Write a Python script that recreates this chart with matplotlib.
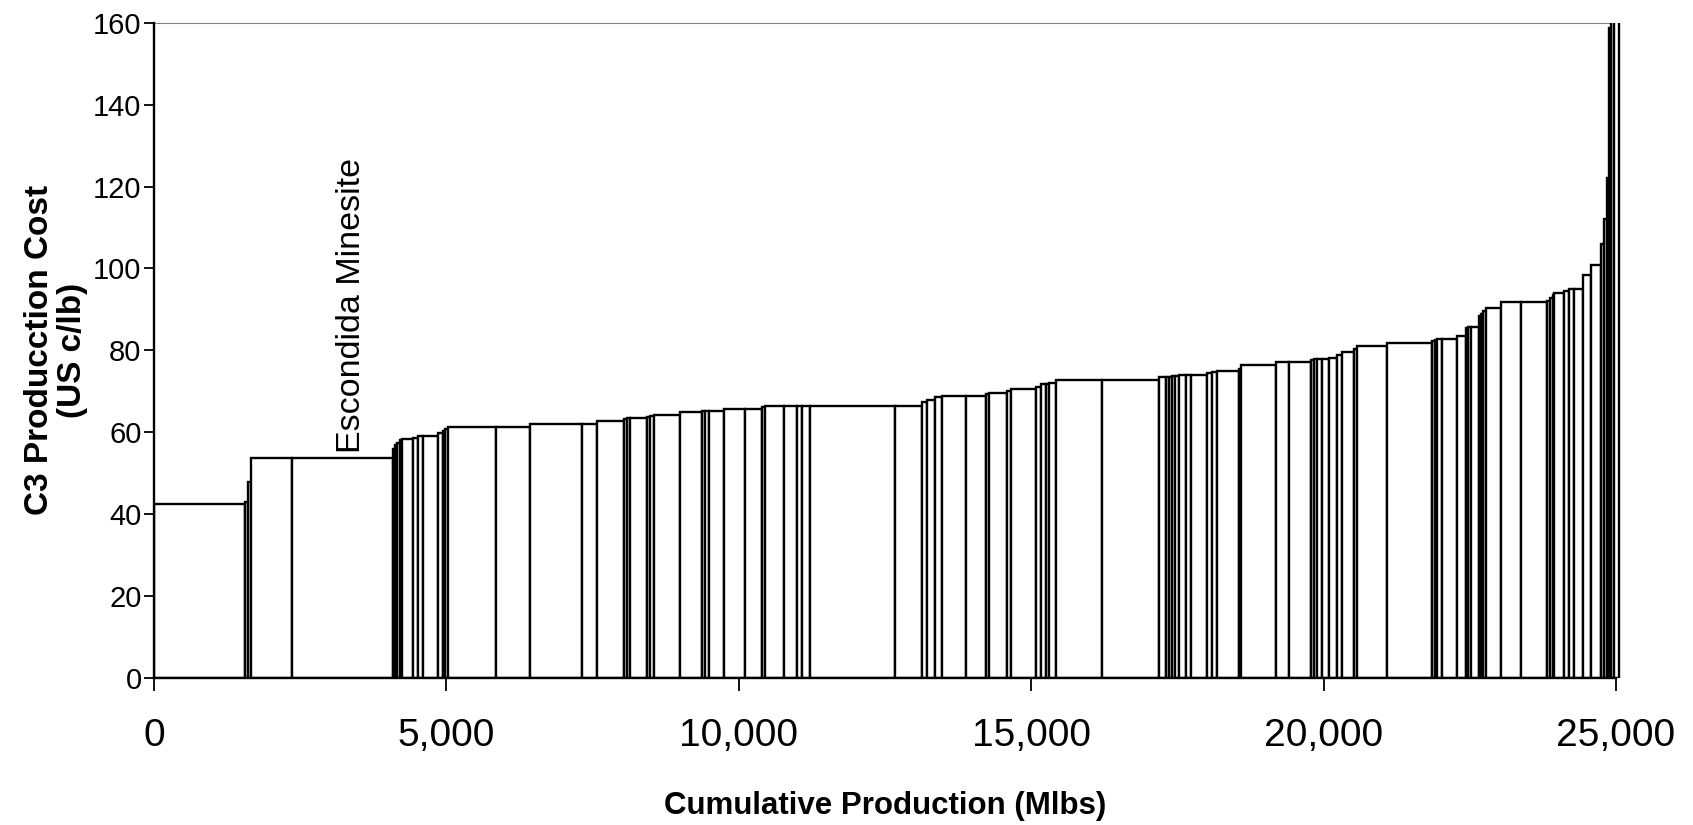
import matplotlib
matplotlib.use("Agg")
import matplotlib.pyplot as plt
import matplotlib.patches as mpatches
from matplotlib.ticker import FuncFormatter
import numpy as np

plt.rcParams['font.family'] = ['Liberation Sans', 'DejaVu Sans']

# cumulative production at the right edge of each mine (Mlbs)
cum_end = [1557, 1613, 1660, 2356, 4094, 4123, 4158, 4200, 4238, 4436,
           4522, 4607, 4854, 4933, 4976, 5035, 5846, 6433, 7318, 7575,
           8030, 8088, 8144, 8430, 8487, 8543, 9000, 9371, 9428, 9484,
           9741, 10112, 10398, 10454, 10767, 10997, 11082, 11224, 12679, 13136,
           13221, 13363, 13478, 13877, 14219, 14275, 14590, 14647, 15075, 15160,
           15246, 15302, 15417, 16216, 17184, 17299, 17350, 17402, 17453, 17525,
           17640, 17725, 18012, 18097, 18183, 18552, 18593, 19181, 19408, 19780,
           19836, 19894, 19979, 20093, 20237, 20322, 20520, 20578, 21091, 21861,
           21900, 21947, 22032, 22289, 22431, 22474, 22517, 22659, 22688, 22722,
           22774, 23030, 23373, 23829, 23869, 23915, 23942, 24113, 24199, 24284,
           24428, 24570, 24741, 24797, 24855, 24877, 24920, 24968, 25054]

# C3 cost of each mine (US c/lb)
cost = [42.5, 43.1, 48.0, 53.8, 53.8, 56.0, 56.8, 57.5, 58.1, 58.3,
        58.5, 59.1, 59.1, 59.9, 60.4, 60.7, 61.4, 61.4, 62.1, 62.1,
        62.8, 63.2, 63.4, 63.6, 63.8, 64.0, 64.3, 65.0, 65.1, 65.2,
        65.2, 65.8, 65.8, 66.2, 66.5, 66.5, 66.5, 66.5, 66.5, 66.5,
        67.5, 68.0, 68.6, 68.8, 68.8, 69.4, 69.6, 70.0, 70.5, 71.1,
        71.8, 71.8, 72.0, 72.8, 72.8, 73.4, 73.5, 73.6, 73.7, 73.8,
        74.1, 74.1, 74.1, 74.4, 74.7, 75.0, 75.5, 76.4, 77.2, 77.2,
        77.6, 77.9, 77.9, 78.0, 78.2, 79.0, 79.5, 80.4, 81.2, 81.9,
        82.3, 82.5, 82.7, 82.8, 83.5, 85.5, 85.7, 85.7, 88.5, 89.0,
        89.6, 90.4, 91.7, 91.7, 92.0, 92.8, 93.5, 94.1, 94.5, 95.0,
        95.0, 98.5, 100.8, 105.9, 112.0, 122.0, 158.6, 175.0, 190.0]

label_text = "Escondida Minesite"
label_pos = (3370, 55)

ends = np.array(cum_end)
starts = np.concatenate([[0], ends[:-1]])
widths = ends - starts

fig = plt.figure(figsize=(16.93, 8.25), dpi=100)
ax = fig.add_axes([0.091, 0.178, 0.8635, 0.7945])

bars = ax.bar(starts, cost, width=widths, align='edge', facecolor='white',
              edgecolor='black', linewidth=1.7)
# let the last bars poke out a little past 25,000 like the original
clip = mpatches.Rectangle((0, 0), 1.004, 1, transform=ax.transAxes)
for b in bars:
    b.set_clip_path(clip)

ax.axhline(160, color='#808080', linewidth=1.5, zorder=0.5)

ax.set_xlim(0, 25000)
ax.set_ylim(0, 160)
ax.set_xticks(range(0, 25001, 5000))
ax.set_yticks(range(0, 161, 20))
ax.xaxis.set_major_formatter(FuncFormatter(lambda v, p: f"{int(v):,}"))

for s in ['top', 'right']:
    ax.spines[s].set_visible(False)
for s in ['left', 'bottom']:
    ax.spines[s].set_linewidth(1.7)

ax.tick_params(axis='x', direction='out', length=9, width=1.3, labelsize=28, pad=20)
ax.tick_params(axis='y', direction='out', length=7, width=1.3, labelsize=21, pad=2)

ax.set_xlabel("Cumulative Production (Mlbs)", fontsize=22.5, fontweight='bold', labelpad=26)
ax.set_ylabel("C3 Producction Cost\n(US c/lb)", fontsize=24, fontweight='bold', labelpad=4,
              linespacing=1.05)

ax.text(label_pos[0], label_pos[1], label_text, rotation=90, ha='center', va='bottom',
        fontsize=24.5)

fig.savefig("out.png", dpi=100)
